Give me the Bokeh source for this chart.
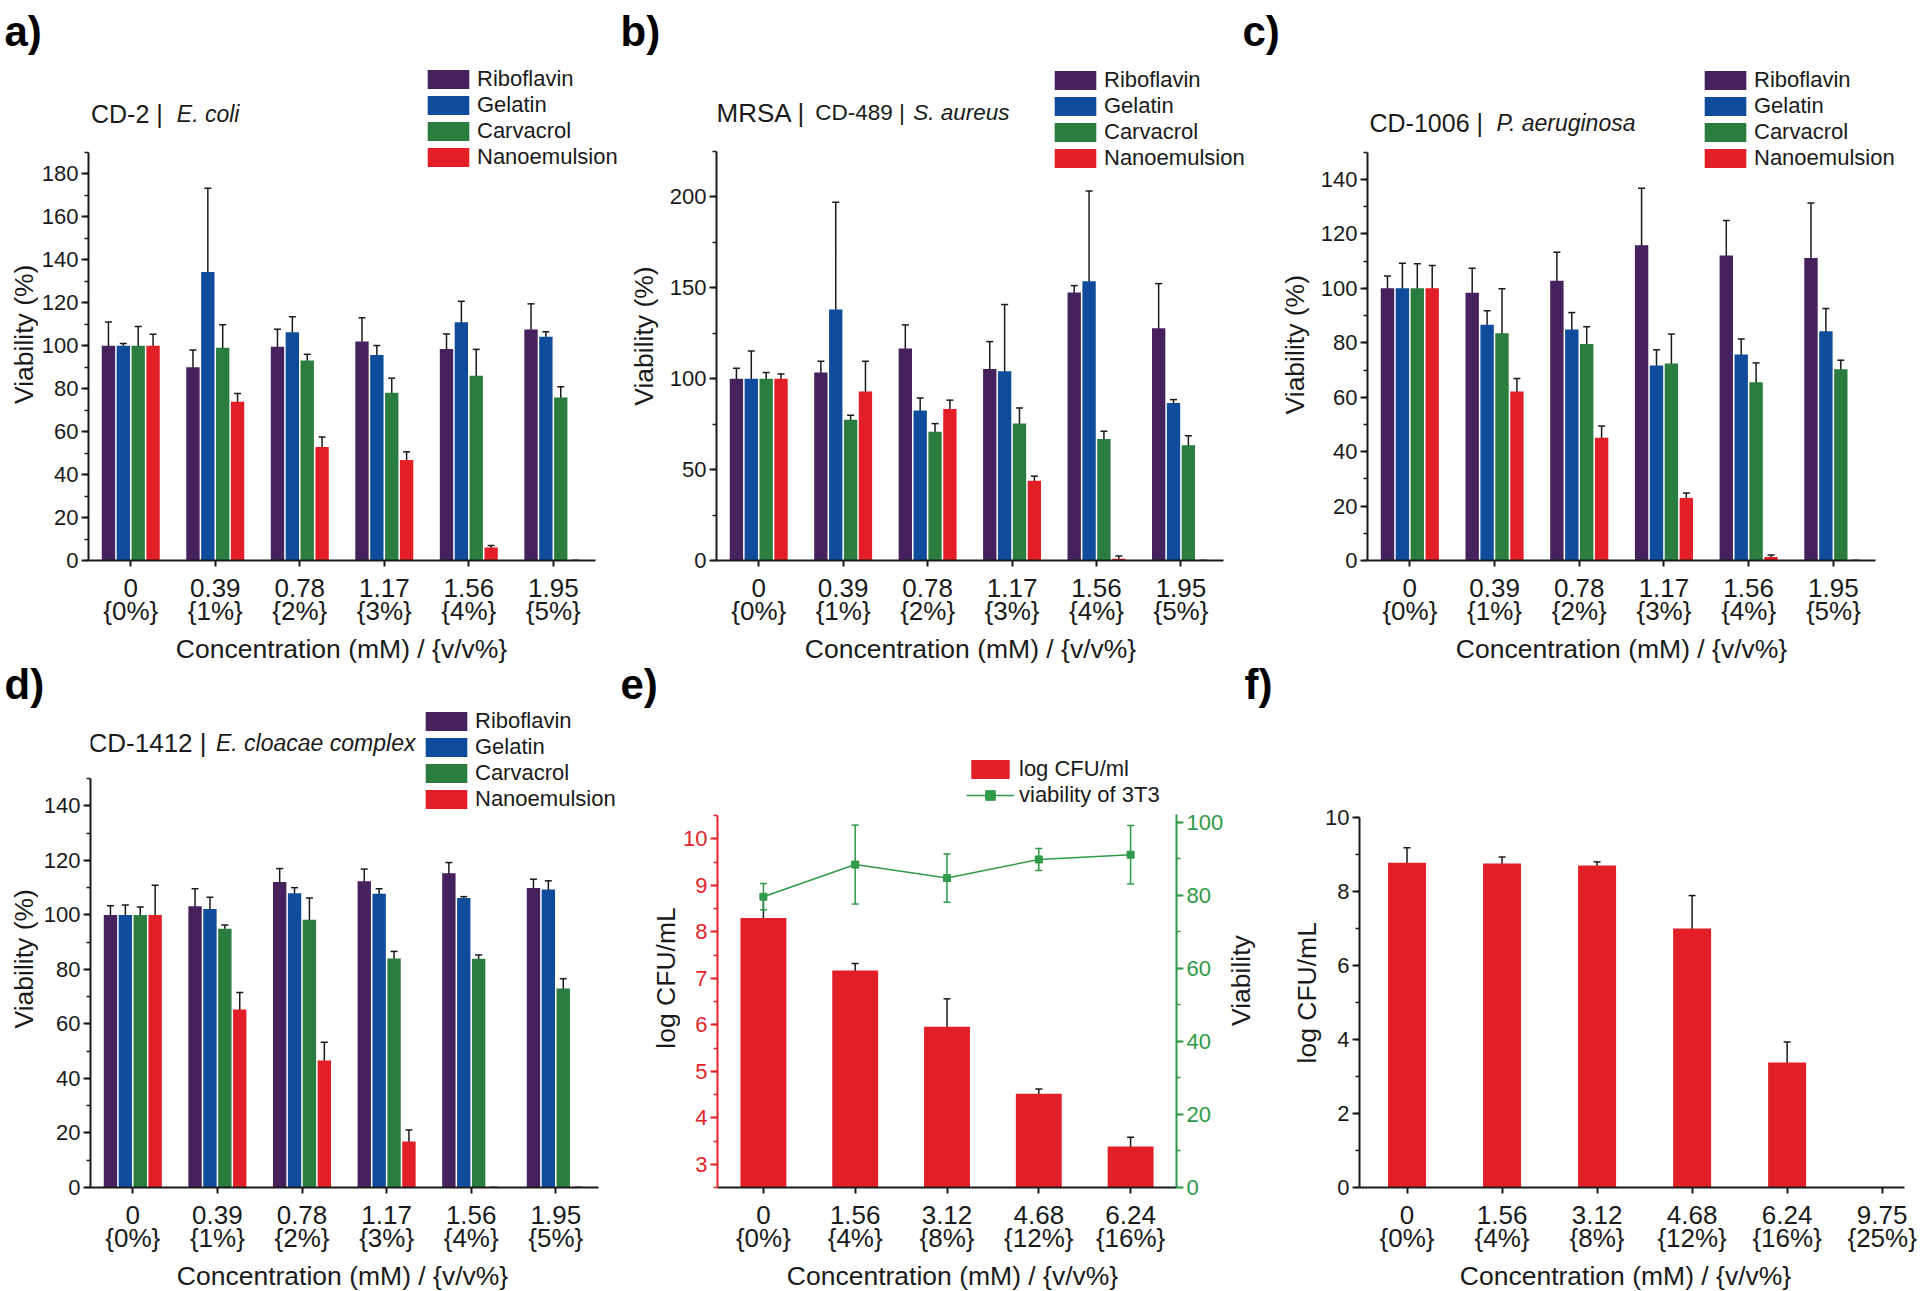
import math
from bokeh.plotting import figure
from bokeh.models import (Range1d, LinearAxis, FixedTicker, SingleIntervalTicker, Whisker,
                          TeeHead, ColumnDataSource, Legend, LegendItem, Label)
from bokeh.layouts import row, column
from bokeh.embed import file_html
from bokeh.resources import INLINE

# ------------------------------------------------------------------ data
series_names = ["Riboflavin", "Gelatin", "Carvacrol", "Nanoemulsion"]
conc_abcd = ["0", "0.39", "0.78", "1.17", "1.56", "1.95"]
vv_abcd = ["{0%}", "{1%}", "{2%}", "{3%}", "{4%}", "{5%}"]

# a) CD-2 | E. coli
a_riboflavin = [100, 90, 99.5, 102, 98.5, 107.5]
a_riboflavin_err = [11, 8, 8.2, 11, 7, 12]
a_gelatin = [100, 134.3, 106.3, 95.7, 110.9, 104.2]
a_gelatin_err = [1, 39, 7.2, 4.4, 9.8, 2.3]
a_carvacrol = [100, 99.1, 93.1, 78.1, 86, 75.9]
a_carvacrol_err = [9, 10.7, 2.9, 6.8, 12.3, 5]
a_nanoemulsion = [100, 73.9, 52.8, 46.8, 6, 0]
a_nanoemulsion_err = [5.3, 3.9, 4.7, 3.8, 1, 0]

# b) MRSA | CD-489 | S. aureus
b_riboflavin = [100, 103.4, 116.6, 105.4, 147.4, 127.8]
b_riboflavin_err = [5.8, 6.2, 13, 15, 3.8, 24.5]
b_gelatin = [100, 138, 82.5, 104.1, 153.6, 86.7]
b_gelatin_err = [15.2, 59, 6.9, 36.7, 49.7, 1.8]
b_carvacrol = [100, 77.4, 70.8, 75.3, 66.9, 63.4]
b_carvacrol_err = [3.4, 2.5, 4.5, 8.6, 4.2, 5.2]
b_nanoemulsion = [100, 92.9, 83.4, 43.8, 1.0, 0]
b_nanoemulsion_err = [2.6, 16.7, 4.8, 2.6, 1.5, 0]

# c) CD-1006 | P. aeruginosa
c_riboflavin = [100, 98.4, 102.8, 115.8, 112.1, 111.2]
c_riboflavin_err = [4.5, 9, 10.5, 21, 12.8, 20.2]
c_gelatin = [100, 86.6, 84.9, 71.7, 75.7, 84.2]
c_gelatin_err = [9.2, 5.2, 6.2, 5.7, 5.7, 8.4]
c_carvacrol = [100, 83.5, 79.6, 72.4, 65.5, 70.3]
c_carvacrol_err = [9, 16.4, 6.3, 10.8, 7.1, 3.3]
c_nanoemulsion = [100, 62.1, 45.1, 23, 1.3, 0]
c_nanoemulsion_err = [8.4, 4.8, 4.3, 1.8, 0.7, 0]

# d) CD-1412 | E. cloacae complex
d_riboflavin = [100, 103.2, 112.1, 112.3, 115.3, 109.9]
d_riboflavin_err = [3.4, 6.4, 4.9, 4.5, 3.9, 3.2]
d_gelatin = [100, 102.2, 107.9, 107.8, 106.2, 109.3]
d_gelatin_err = [3.6, 4.3, 2.1, 1.8, 0.5, 3.2]
d_carvacrol = [100, 94.9, 98.2, 84.0, 83.9, 73.0]
d_carvacrol_err = [2.9, 1.4, 8, 2.6, 1.4, 3.6]
d_nanoemulsion = [100, 65.3, 46.6, 16.9, 0, 0]
d_nanoemulsion_err = [10.9, 6.2, 6.7, 4.2, 0, 0]

# e) log CFU/mL and viability of 3T3
conc_e = ["0", "1.56", "3.12", "4.68", "6.24"]
vv_e = ["{0%}", "{4%}", "{8%}", "{12%}", "{16%}"]
e_log_cfu = [8.3, 7.17, 5.96, 4.52, 3.38]
e_log_cfu_err = [0.5, 0.15, 0.6, 0.1, 0.2]
e_viability_3t3 = [79.6, 88.4, 84.7, 89.8, 91.1]
e_viability_3t3_err = [3.6, 10.8, 6.6, 3.0, 8.0]

# f) log CFU/mL
conc_f = ["0", "1.56", "3.12", "4.68", "6.24", "9.75"]
vv_f = ["{0%}", "{4%}", "{8%}", "{12%}", "{16%}", "{25%}"]
f_log_cfu = [8.78, 8.76, 8.7, 7.0, 3.38]
f_log_cfu_err = [0.4, 0.17, 0.1, 0.89, 0.55]

# ------------------------------------------------------------------ style
FONT = "Liberation Sans"
INK = "#1a1a1a"
COLORS = ["#45215e", "#0f4d9c", "#2a7d3e", "#e21f26"]
RED = "#e21f26"
AXRED = "#e3242b"
GREEN = "#2f9a48"

# main plot geometry (page px): box=(x0, y0, w, h), y-axis x, x-axis y, frame right,
# px per category, px per y unit, y value at the x axis
SPEC = {
    "a": dict(box=(38, 56, 590, 577), axl=87, axb=561, fr=628, cat_px=84.67, ypx=2.152, y0=0),
    "b": dict(box=(666, 56, 594, 577), axl=715, axb=560, fr=1260, cat_px=84.6, ypx=1.818, y0=0),
    "c": dict(box=(1310, 56, 610, 577), axl=1367, axb=560, fr=1920, cat_px=84.7, ypx=2.7214, y0=0),
    "d": dict(box=(38, 708, 590, 551), axl=90, axb=1187, fr=628, cat_px=84.6, ypx=2.726, y0=0),
    "e": dict(box=(680, 708, 546, 551), axl=717, axb=1187, fr=1178, cat_px=92.2, ypx=46.47, y0=2.5),
    "f": dict(box=(1322, 708, 598, 551), axl=1358, axb=1187, fr=1920, cat_px=95.2, ypx=37.0, y0=0),
}


def X(s, px):
    return -0.5 + (px - s["axl"]) / s["cat_px"]


def Y(s, py):
    return s["y0"] + (s["axb"] - py) / s["ypx"]


def text_strip(x0, y0, w, h, items):
    """A bare figure whose data x equals page x and data y equals minus page y."""
    p = figure(width=w, height=h, title=None, output_backend="svg", toolbar_location=None,
               x_range=Range1d(x0, x0 + w), y_range=Range1d(-(y0 + h), -y0),
               x_axis_type=None, y_axis_type=None, min_border=0)
    p.outline_line_color = None
    for it in items:
        kw = dict(text_font=FONT, text_color=INK, text_baseline="middle")
        kw.update(it)
        kw["y"] = -kw["y"]
        p.add_layout(Label(**kw))
    return p


def make_fig(s, conc, vv, xb_hi, yint, ybounds, ycolor=INK):
    fx0, fy0, fw, fh = s["box"]
    x_end = -0.5 + (s["fr"] - s["axl"]) / s["cat_px"]
    y_end = s["y0"] + (s["axb"] - fy0) / s["ypx"]
    p = figure(width=fw, height=fh, title=None, output_backend="svg", toolbar_location=None,
               x_range=Range1d(-0.5, x_end), y_range=Range1d(s["y0"], y_end),
               min_border_left=s["axl"] - fx0, min_border_right=fx0 + fw - s["fr"],
               min_border_top=0, min_border_bottom=fy0 + fh - s["axb"])
    p.outline_line_color = None
    p.xgrid.visible = False
    p.ygrid.visible = False
    ticks = list(range(len(conc)))
    xa = p.xaxis[0]
    xa.ticker = FixedTicker(ticks=ticks)
    xa.major_label_overrides = {float(i): t for i, t in zip(ticks, conc)}
    xa.bounds = (-0.5, xb_hi)
    xa.axis_line_width = 2
    xa.axis_line_color = INK
    xa.major_tick_line_width = 2
    xa.major_tick_line_color = INK
    xa.major_tick_out = 6
    xa.major_tick_in = 0
    xa.minor_tick_line_color = None
    xa.major_label_text_font = FONT
    xa.major_label_text_font_size = "26px"
    xa.major_label_text_color = INK
    xa.major_label_standoff = 12
    xa2 = LinearAxis(ticker=FixedTicker(ticks=ticks),
                     major_label_overrides={float(i): t for i, t in zip(ticks, vv)},
                     axis_line_color=None, major_tick_line_color=None, minor_tick_line_color=None,
                     major_tick_out=0, major_tick_in=0, major_label_standoff=-4,
                     major_label_text_font=FONT, major_label_text_font_size="26px",
                     major_label_text_color=INK)
    xa2.bounds = (-0.5, xb_hi)
    p.add_layout(xa2, "below")
    ya = p.yaxis[0]
    ya.ticker = SingleIntervalTicker(interval=yint, num_minor_ticks=2)
    ya.bounds = ybounds
    ya.axis_line_width = 2
    ya.axis_line_color = ycolor
    ya.major_tick_line_width = 2
    ya.major_tick_line_color = ycolor
    ya.minor_tick_line_width = 1.5
    ya.minor_tick_line_color = ycolor
    ya.major_tick_out = 7
    ya.major_tick_in = 0
    ya.minor_tick_out = 4
    ya.minor_tick_in = 0
    ya.major_label_text_font = FONT
    ya.major_label_text_font_size = "22px"
    ya.major_label_text_color = ycolor
    ya.major_label_standoff = 3
    return p


def label(p, s, px, py, text, size, italic=False):
    p.add_layout(Label(x=X(s, px), y=Y(s, py), text=text, text_font=FONT, text_font_size=size,
                       text_font_style="italic" if italic else "normal", text_align="left",
                       text_baseline="middle", text_color=INK))


def whisker(p, xs, vals, errs, color=INK, y_range_name="default"):
    src = ColumnDataSource(dict(x=xs, upper=[v + e for v, e in zip(vals, errs)],
                                lower=[v - e for v, e in zip(vals, errs)]))
    w = Whisker(source=src, base="x", upper="upper", lower="lower", line_color=color,
                line_width=1.5, y_range_name=y_range_name,
                upper_head=TeeHead(size=7, line_color=color, line_width=1.5),
                lower_head=TeeHead(size=7, line_color=color, line_width=1.5))
    p.add_layout(w)


def legend(items, s, left_px, bottom_px, glyph_width=52, standoff=3):
    return Legend(items=items, location=(left_px - s["axl"], s["axb"] - bottom_px),
                  glyph_width=glyph_width, glyph_height=24, label_standoff=standoff,
                  spacing=0, padding=0, margin=0, border_line_color=None,
                  background_fill_alpha=0, label_text_font=FONT, label_text_font_size="22px",
                  label_text_color=INK, label_height=24)


def group_panel(key, values, errs, ytop, yint, legend_px, title_parts):
    s = SPEC[key]
    p = make_fig(s, conc_abcd, vv_abcd, 5.5, yint, (0, ytop))
    pitch, bw = 0.176, 0.158
    items = []
    for k, (name, col) in enumerate(zip(series_names, COLORS)):
        xs = [i + (k - 1.5) * pitch for i in range(len(values[k]))]
        r = p.vbar(x=xs, top=values[k], width=bw, bottom=0, fill_color=col, line_color=None)
        items.append(LegendItem(label=name, renderers=[r]))
    for k in range(4):
        xs = [i + (k - 1.5) * pitch for i in range(len(values[k]))]
        whisker(p, xs, values[k], errs[k])
    p.add_layout(legend(items, s, legend_px[0], legend_px[1]))
    for (px, py, text, size, italic) in title_parts:
        label(p, s, px, py, text, size, italic=italic)
    return p


pa = group_panel("a", [a_riboflavin, a_gelatin, a_carvacrol, a_nanoemulsion],
                 [a_riboflavin_err, a_gelatin_err, a_carvacrol_err, a_nanoemulsion_err],
                 190, 20, (421, 171),
                 [(89.5, 114, "CD-2 |", "25px", False), (175.5, 114, "E. coli", "23px", True)])
pb = group_panel("b", [b_riboflavin, b_gelatin, b_carvacrol, b_nanoemulsion],
                 [b_riboflavin_err, b_gelatin_err, b_carvacrol_err, b_nanoemulsion_err],
                 225, 50, (1048, 171),
                 [(715, 112, "MRSA |", "26px", False), (814, 112, "CD-489 |", "22.5px", False),
                  (912, 112, "S. aureus", "22.5px", True)])
pc = group_panel("c", [c_riboflavin, c_gelatin, c_carvacrol, c_nanoemulsion],
                 [c_riboflavin_err, c_gelatin_err, c_carvacrol_err, c_nanoemulsion_err],
                 150, 20, (1699, 171),
                 [(1369, 122.5, "CD-1006 |", "25px", False),
                  (1496, 122.5, "P. aeruginosa", "23px", True)])
pd_ = group_panel("d", [d_riboflavin, d_gelatin, d_carvacrol, d_nanoemulsion],
                  [d_riboflavin_err, d_gelatin_err, d_carvacrol_err, d_nanoemulsion_err],
                  150, 20, (420, 811.5),
                  [(88, 742, "CD-1412 |", "26px", False),
                   (215.5, 742, "E. cloacae complex", "23px", True)])

# ---------------- panel e
se = SPEC["e"]
pe = make_fig(se, conc_e, vv_e, 4.5, 1, (2.5, 10.5), ycolor=AXRED)
right_end = (se["axb"] - se["box"][1]) / 3.653
pe.extra_y_ranges = {"right": Range1d(0, right_end)}
ra = LinearAxis(y_range_name="right", ticker=SingleIntervalTicker(interval=20, num_minor_ticks=2),
                axis_line_color=GREEN, axis_line_width=2, major_tick_line_color=GREEN,
                major_tick_line_width=2, minor_tick_line_color=GREEN, minor_tick_line_width=1.5,
                major_tick_out=7, major_tick_in=0, minor_tick_out=4, minor_tick_in=0,
                major_label_text_font=FONT, major_label_text_font_size="22px",
                major_label_text_color=GREEN, major_label_standoff=3)
ra.bounds = (0, 102)
pe.add_layout(ra, "right")
xe = list(range(len(e_log_cfu)))
rbar = pe.vbar(x=xe, top=e_log_cfu, width=0.5, bottom=2.5, fill_color=RED, line_color=None)
whisker(pe, xe, e_log_cfu, e_log_cfu_err)
rline = pe.line(xe, e_viability_3t3, line_color=GREEN, line_width=1.5, y_range_name="right")
rpts = pe.scatter(xe, e_viability_3t3, marker="square", size=7, fill_color=GREEN,
                  line_color=GREEN, y_range_name="right")
whisker(pe, xe, e_viability_3t3, e_viability_3t3_err, color=GREEN, y_range_name="right")
pe.add_layout(legend([LegendItem(label="log CFU/ml", renderers=[rbar]),
                      LegendItem(label="viability of 3T3", renderers=[rline, rpts])],
                     se, 966, 808, glyph_width=48, standoff=5))

# ---------------- panel f
sf = SPEC["f"]
pf = make_fig(sf, conc_f, vv_f, 5.23, 2, (0, 10))
xf = list(range(len(f_log_cfu)))
pf.vbar(x=xf, top=f_log_cfu, width=0.4, bottom=0, fill_color=RED, line_color=None)
whisker(pf, xf, f_log_cfu, f_log_cfu_err)

# ---------------- free texts (panel letters, axis titles)
ROT = math.pi / 2
XT = "Concentration (mM) / {v/v%}"
ROT_SHIFT = 36  # rotated labels render this many px above their anchor


def letter(x, y, t):
    return dict(x=x, y=y, text=t, text_font_size="42px", text_font_style="bold",
                text_align="left", text_color="#000000")


def ytitle(x, y, t):
    return dict(x=x, y=y + ROT_SHIFT, text=t, text_font_size="26.5px", angle=ROT,
                text_align="center")


def xtitle(x, y):
    return dict(x=x, y=y, text=XT, text_font_size="26.5px", text_align="center")


letters1 = text_strip(0, 0, 1920, 56, [letter(4, 31, "a)"), letter(620, 31, "b)"),
                                      letter(1242, 31, "c)")])
yt_a = text_strip(0, 56, 38, 577, [ytitle(23.5, 338, "Viability (%)")])
yt_b = text_strip(628, 56, 38, 577, [ytitle(643.5, 340, "Viability (%)")])
yt_c = text_strip(1260, 56, 50, 577, [ytitle(1294, 350, "Viability (%)")])

# strip between the rows: x titles of row 1 and panel letters of row 2
mid = text_strip(0, 633, 1920, 75, [xtitle(341, 648.5), xtitle(970, 648.5), xtitle(1621, 648.5),
                                    letter(4, 684, "d)"), letter(620, 684, "e)"),
                                    letter(1244, 684, "f)")])
yt_d = text_strip(0, 708, 38, 551, [ytitle(23.5, 960, "Viability (%)")])
yt_e = text_strip(628, 708, 52, 551, [ytitle(665, 982, "log CFU/mL")])
yt_er = text_strip(1226, 708, 34, 551, [ytitle(1240, 985, "Viability")])
yt_f = text_strip(1260, 708, 62, 551, [ytitle(1306, 999, "log CFU/mL")])
xt2 = text_strip(0, 1259, 1920, 32, [xtitle(342, 1275.5), xtitle(952, 1275.5),
                                     xtitle(1625, 1275.5)])

layout = column(letters1,
                row(yt_a, pa, yt_b, pb, yt_c, pc, spacing=0),
                mid,
                row(yt_d, pd_, yt_e, pe, yt_er, yt_f, pf, spacing=0),
                xt2, spacing=0)
open("out.html", "w").write(file_html(layout, INLINE))
